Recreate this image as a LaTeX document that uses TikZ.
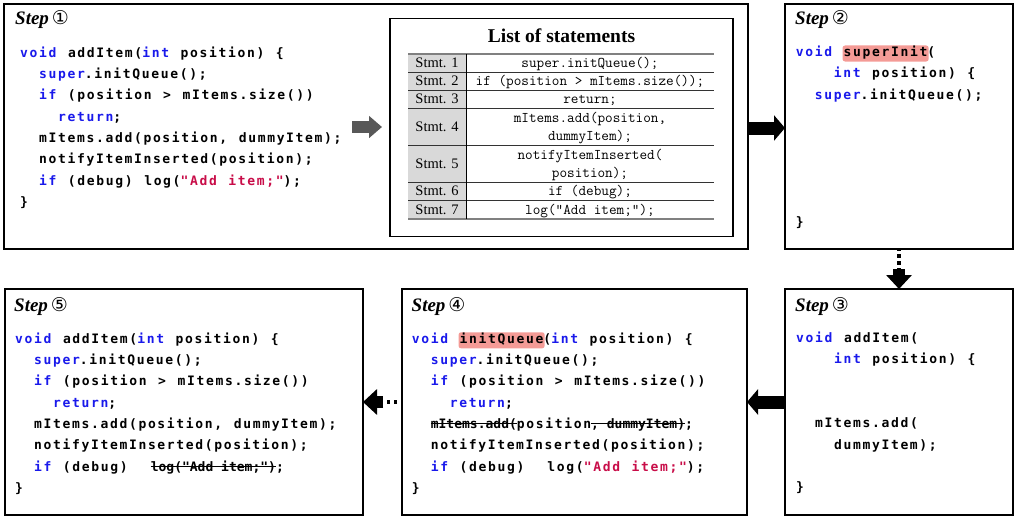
\documentclass[tikz,border=0pt]{standalone}
\usepackage{fontspec}
\usetikzlibrary{arrows.meta,calc}
\newfontfamily\codefnt{DejaVu Sans Mono}[LetterSpace=12.8,WordSpace=1.214]
\newfontfamily\codefntns{DejaVu Sans Mono}
\newfontfamily\circfnt{DejaVu Sans}
\newfontfamily\tabserif{Liberation Serif}
\definecolor{kwblue}{RGB}{25,25,235}
\definecolor{strred}{RGB}{200,12,72}
\definecolor{hlpink}{RGB}{244,155,150}
\definecolor{cellgray}{RGB}{217,217,217}
\definecolor{arrowgray}{RGB}{88,88,88}
\newcommand\codefont{\fontsize{13}{15}\codefnt\bfseries}
\newcommand\kw[1]{\textcolor{kwblue}{#1}}
\newcommand\strc[1]{\textcolor{strred}{#1}}
\newsavebox\stbox
\newcommand\strk[1]{\sbox\stbox{\codefntns\bfseries #1}\rlap{\usebox\stbox}\rule[4.3pt]{\wd\stbox}{1.2pt}}
\newcommand\hl[2]{\kern-1.2pt\tikz[baseline=(#1.base)]\node[fill=hlpink,rounded corners=2.5pt,inner xsep=1.2pt,inner ysep=1.5pt,text height=9.5pt,text depth=3.5pt,anchor=base,outer sep=0pt] (#1) {#2};\kern-1.2pt}
\newcommand\codeln[6]{\node[codeline] (#1) at ({#2+#4*9.47},{#3+#5*21.3}) {#6};}
\newcommand\stepttl[4]{\node[steptitle] (#1) at (#2,#3) {Step\kern3pt{\fontsize{19}{20}\circfnt\mdseries\upshape #4}};}
\begin{document}
\begin{tikzpicture}[x=1pt,y=-1pt,
  stepbox/.style={draw,line width=2pt,anchor=north west,outer sep=0pt,inner sep=0pt},
  listbox/.style={draw,line width=1.3pt,anchor=north west,outer sep=0pt,inner sep=0pt},
  codeline/.style={anchor=base west,inner sep=0pt,font=\codefont},
  steptitle/.style={anchor=base west,inner sep=0pt,font=\fontsize{19}{21}\tabserif\bfseries\itshape},
  lcell/.style={anchor=base,inner sep=0pt,font=\fontsize{14.5}{17}\tabserif},
  rcell/.style={anchor=base,inner sep=0pt,font=\fontsize{14.8}{17}\ttfamily},
  blockarrow/.style={line width=13pt,-{Triangle[length=11pt,width=25pt]}},
  grayarrow/.style={line width=12.6pt,draw=arrowgray,-{Triangle[length=13pt,width=21.5pt]}},
  dotline/.style={line width=3.5pt,dash pattern=on 3.5pt off 3.5pt,dash phase=2pt},
  headarrow/.style={line width=12pt,-{Triangle[length=14pt,width=25pt]}}
]
\useasboundingbox (0,0) rectangle (1015,519);
% boxes
\node[stepbox,minimum width=744pt,minimum height=245pt] (s1) at (4,4) {};
\node[stepbox,minimum width=228pt,minimum height=245pt] (s2) at (785,4) {};
\node[stepbox,minimum width=228pt,minimum height=226pt] (s3) at (785,289) {};
\node[stepbox,minimum width=345pt,minimum height=226pt] (s4) at (402,289) {};
\node[stepbox,minimum width=358pt,minimum height=226pt] (s5) at (5,289) {};
\node[listbox,minimum width=343pt,minimum height=218pt] (lst) at (390,18.5) {};
% titles
\stepttl{t1}{15}{24.5}{①}
\stepttl{t2}{795}{24.5}{②}
\stepttl{t3}{795}{311}{③}
\stepttl{t4}{411.5}{311}{④}
\stepttl{t5}{14}{311}{⑤}
% step 1 code
\codeln{a0}{20}{57.3}{0}{0}{\kw{void} addItem(\kw{int} position) \{}
\codeln{a1}{20}{57.3}{2}{1}{\kw{super}.initQueue();}
\codeln{a2}{20}{57.3}{2}{2}{\kw{if} (position > mItems.size())}
\codeln{a3}{20}{57.3}{4}{3}{\kw{return};}
\codeln{a4}{20}{57.3}{2}{4}{mItems.add(position, dummyItem);}
\codeln{a5}{20}{57.3}{2}{5}{notifyItemInserted(position);}
\codeln{a6}{20}{57.3}{2}{6}{\kw{if} (debug) log(\strc{"Add item;"});}
\codeln{a7}{20}{57.3}{0}{7}{\}}
% list of statements
\node[anchor=base,inner sep=0pt,font=\fontsize{19.5}{22}\tabserif\bfseries] (lt) at (561.5,43) {List of statements};
\fill[cellgray] (408,54) rectangle (466,219);
\foreach \yy in {72,90,108,145.5,182,200} \draw[line width=0.9pt,black!80] (408,\yy) -- (714,\yy);
\draw[line width=1.6pt,black!50] (408,54) -- (714,54);
\draw[line width=1.6pt,black!50] (408,219) -- (714,219);
\draw[line width=0.9pt] (466,54) -- (466,219);
\node[lcell] (l1) at (437,67.8) {Stmt. 1};
\node[lcell] (l2) at (437,85.8) {Stmt. 2};
\node[lcell] (l3) at (437,103.8) {Stmt. 3};
\node[lcell] (l4) at (437,131.5) {Stmt. 4};
\node[lcell] (l5) at (437,168.5) {Stmt. 5};
\node[lcell] (l6) at (437,195.8) {Stmt. 6};
\node[lcell] (l7) at (437,214.3) {Stmt. 7};
\node[rcell] (r1) at (590,67.5) {super.initQueue();};
\node[rcell] (r2) at (590,85.5) {if (position > mItems.size());};
\node[rcell] (r3) at (590,103.5) {return;};
\node[rcell] (r4a) at (590,122.3) {mItems.add(position,};
\node[rcell] (r4b) at (590,140.3) {dummyItem);};
\node[rcell] (r5a) at (590,159.3) {notifyItemInserted(};
\node[rcell] (r5b) at (590,177.3) {position);};
\node[rcell] (r6) at (590,195.5) {if (debug);};
\node[rcell] (r7) at (590,214) {log("Add item;");};
% step 2 code
\codeln{b0}{795.7}{56.5}{0}{0}{\kw{void} \hl{hA}{superInit}(}
\codeln{b1}{795.7}{56.5}{4}{1}{\kw{int} position) \{}
\codeln{b2}{795.7}{56.5}{2}{2}{\kw{super}.initQueue();}
\codeln{b8}{795.7}{56.5}{0}{8}{\}}
% step 3 code
\codeln{c0}{796}{342.5}{0}{0}{\kw{void} addItem(}
\codeln{c1}{796}{342.5}{4}{1}{\kw{int} position) \{}
\codeln{c4}{796}{342.5}{2}{4}{mItems.add(}
\codeln{c5}{796}{342.5}{4}{5}{dummyItem);}
\codeln{c7}{796}{342.5}{0}{7}{\}}
% step 4 code
\codeln{d0}{411.7}{343.3}{0}{0}{\kw{void} \hl{hB}{initQueue}(\kw{int} position) \{}
\codeln{d1}{411.7}{343.3}{2}{1}{\kw{super}.initQueue();}
\codeln{d2}{411.7}{343.3}{2}{2}{\kw{if} (position > mItems.size())}
\codeln{d3}{411.7}{343.3}{4}{3}{\kw{return};}
\codeln{d4}{411.7}{343.3}{2}{4}{\strk{mItems.add(}position\strk{, dummyItem)};}
\codeln{d5}{411.7}{343.3}{2}{5}{notifyItemInserted(position);}
\codeln{d6}{411.7}{343.3}{2}{6}{\kw{if} (debug)\ \ log(\strc{"Add item;"});}
\codeln{d7}{411.7}{343.3}{0}{7}{\}}
% step 5 code
\codeln{e0}{15}{343.3}{0}{0}{\kw{void} addItem(\kw{int} position) \{}
\codeln{e1}{15}{343.3}{2}{1}{\kw{super}.initQueue();}
\codeln{e2}{15}{343.3}{2}{2}{\kw{if} (position > mItems.size())}
\codeln{e3}{15}{343.3}{4}{3}{\kw{return};}
\codeln{e4}{15}{343.3}{2}{4}{mItems.add(position, dummyItem);}
\codeln{e5}{15}{343.3}{2}{5}{notifyItemInserted(position);}
\codeln{e6}{15}{343.3}{2}{6}{\kw{if} (debug)\ \ \strk{log("Add item;")};}
\codeln{e7}{15}{343.3}{0}{7}{\}}
% arrows
\coordinate (ga) at (352,127);
\coordinate (gb) at ($(lst.west |- ga)+(-8,0)$);
\draw[grayarrow] (ga) -- (gb);
\draw[blockarrow] (s1.east |- 0,128) -- (s2.west |- 0,128);
\coordinate (m23) at ($(s3.north)+(0,-20)$);
\draw[dotline] (s2.south) -- (m23);
\draw[headarrow] (m23) -- (s3.north);
\draw[blockarrow] (s3.west) -- (s4.east);
\coordinate (m45) at ($(s5.east)+(20,0)$);
\draw[dotline] (s4.west) -- (m45);
\draw[headarrow] (m45) -- (s5.east);
\end{tikzpicture}
\end{document}
